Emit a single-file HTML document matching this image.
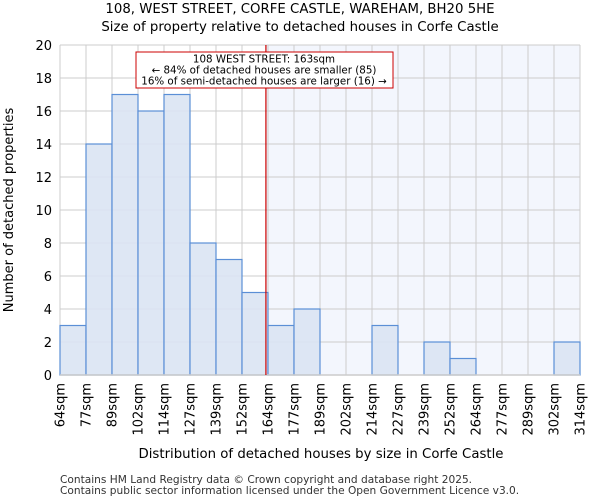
<!DOCTYPE html>
<html><head><meta charset="utf-8"><style>
body{margin:0;background:#fff;font-family:"DejaVu Sans","Liberation Sans",sans-serif}
</style></head><body>
<svg width="600" height="500" xmlns="http://www.w3.org/2000/svg" font-family="DejaVu Sans, Liberation Sans, sans-serif">
<text x="300" y="13" text-anchor="middle" font-size="13.3">108, WEST STREET, CORFE CASTLE, WAREHAM, BH20 5HE</text>
<text x="300" y="31" text-anchor="middle" font-size="13.3">Size of property relative to detached houses in Corfe Castle</text>
<g id="plot"></g>
<text x="321" y="458" text-anchor="middle" font-size="13.3">Distribution of detached houses by size in Corfe Castle</text>
<text transform="translate(13,210) rotate(-90)" text-anchor="middle" font-size="13">Number of detached properties</text>
<text x="60" y="483" font-size="10.6" fill="#333">Contains HM Land Registry data © Crown copyright and database right 2025.</text>
<text x="60" y="494" font-size="10.6" fill="#333">Contains public sector information licensed under the Open Government Licence v3.0.</text>
</svg>
<script>
const binLabels=["64sqm","77sqm","89sqm","102sqm","114sqm","127sqm","139sqm","152sqm","164sqm","177sqm","189sqm","202sqm","214sqm","227sqm","239sqm","252sqm","264sqm","277sqm","289sqm","302sqm","314sqm"];
const counts=[3,14,17,16,17,8,7,5,3,4,0,0,3,0,2,1,0,0,0,2];
const yTicks=[0,2,4,6,8,10,12,14,16,18,20];
const markerIndex=7.92;
const NS="http://www.w3.org/2000/svg";
const g=document.getElementById('plot');
const L=60,R=580,T=45,B=375,yMax=20;
const bw=(R-L)/counts.length;
const xs=i=>L+i*bw, ys=v=>B-(v/yMax)*(B-T);
function el(t,a){const e=document.createElementNS(NS,t);for(const k in a)e.setAttribute(k,a[k]);g.appendChild(e);return e;}
const mx=xs(markerIndex);
let e=el('rect',{x:mx,y:T,width:R-mx,height:B-T,fill:'#f3f6fd'});

yTicks.forEach(v=>{let l=el('line',{x1:L,x2:R,y1:ys(v),y2:ys(v),stroke:'#ccc'});

let t=el('text',{x:L-8,y:ys(v)+5,'text-anchor':'end','font-size':13});t.textContent=v;
});
binLabels.forEach((s,i)=>{let l=el('line',{x1:xs(i),x2:xs(i),y1:T,y2:B,stroke:'#ccc'});

let t=el('text',{transform:`translate(${xs(i)+4.5},${B+8}) rotate(-90)`,'text-anchor':'end','font-size':13});t.textContent=s;
});
counts.forEach((v,i)=>{if(!v)return;let r=el('rect',{x:xs(i),y:ys(v),width:bw,height:B-ys(v),fill:'#dae4f3',stroke:'#5b8fd6','stroke-width':1.2,'fill-opacity':0.9});
});
e=el('line',{x1:L,x2:R,y1:B,y2:B,stroke:'#ccc','stroke-width':1.5});

e=el('line',{x1:mx,x2:mx,y1:T,y2:B,stroke:'#cc0000','stroke-width':1.2});

e=el('rect',{x:136,y:52,width:257,height:36,fill:'#fff',stroke:'#cc0000'});

["108 WEST STREET: 163sqm","← 84% of detached houses are smaller (85)","16% of semi-detached houses are larger (16) →"].forEach((s,k)=>{
let t=el('text',{x:264,y:62.5+k*11,'text-anchor':'middle','font-size':10.3});t.textContent=s;
});
</script>
</body></html>
